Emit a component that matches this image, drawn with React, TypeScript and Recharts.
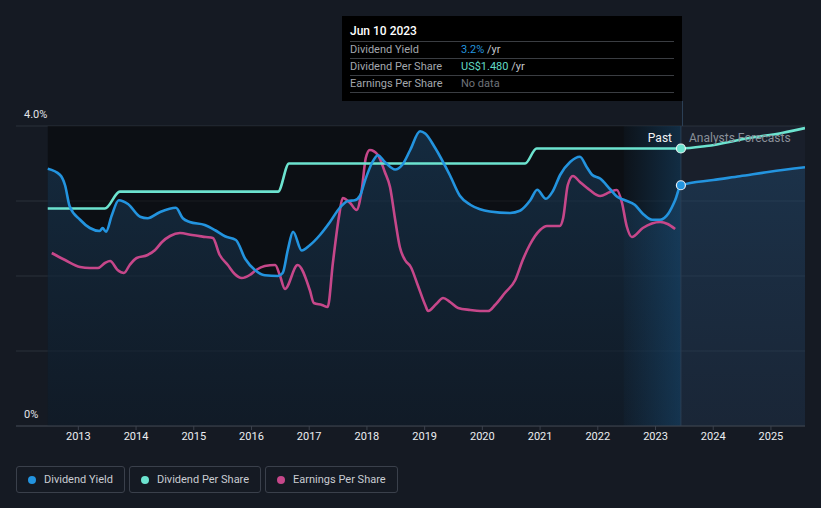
import {
  ComposedChart,
  Area,
  Line,
  XAxis,
  YAxis,
  CartesianGrid,
  ReferenceArea,
  ReferenceLine,
  ReferenceDot,
} from "recharts";

// time is a decimal year; values after NOW are the analyst forecast
const YEAR_TICKS = [2013, 2014, 2015, 2016, 2017, 2018, 2019, 2020, 2021, 2022, 2023, 2024, 2025];
const YIELD_TICKS = [0, 1, 2, 3, 4];

const START = 2012.47;
const NOW = 2023.44;
const END = 2025.59;
const HIGHLIGHT_FROM = 2022.45;

// dividend yield, %
const dividendYield: [number, number][] = [
  [2012.47, 3.43], [2012.68, 3.35], [2012.77, 3.21], [2012.85, 2.93], [2013.03, 2.75],
  [2013.2, 2.64], [2013.37, 2.6], [2013.42, 2.64], [2013.48, 2.59], [2013.58, 2.81],
  [2013.7, 3.01], [2013.86, 2.96], [2014.07, 2.79], [2014.2, 2.77], [2014.41, 2.85],
  [2014.69, 2.91], [2014.81, 2.77], [2014.93, 2.72], [2015.19, 2.68], [2015.37, 2.61],
  [2015.54, 2.53], [2015.73, 2.48], [2015.89, 2.23], [2016.06, 2.08], [2016.23, 2.01],
  [2016.46, 2.0], [2016.54, 2.04], [2016.63, 2.35], [2016.72, 2.59], [2016.87, 2.34],
  [2017.01, 2.41], [2017.19, 2.55], [2017.36, 2.72], [2017.53, 2.91], [2017.67, 3.0],
  [2017.79, 3.01], [2017.88, 3.07], [2017.97, 3.28], [2018.09, 3.51], [2018.19, 3.61],
  [2018.31, 3.52], [2018.49, 3.42], [2018.61, 3.48], [2018.75, 3.68], [2018.92, 3.93],
  [2019.01, 3.9], [2019.18, 3.71], [2019.44, 3.34], [2019.61, 3.07], [2019.79, 2.95],
  [2019.96, 2.89], [2020.13, 2.86], [2020.48, 2.84], [2020.65, 2.87], [2020.83, 3.01],
  [2020.95, 3.15], [2021.1, 3.03], [2021.22, 3.13], [2021.35, 3.35], [2021.52, 3.52],
  [2021.69, 3.59], [2021.81, 3.45], [2021.9, 3.35], [2022.04, 3.3], [2022.21, 3.16],
  [2022.33, 3.06], [2022.47, 3.01], [2022.64, 2.95], [2022.78, 2.83], [2022.94, 2.75],
  [2023.08, 2.75], [2023.22, 2.83], [2023.34, 3.01], [2023.44, 3.21],
  [2024.0, 3.28], [2024.46, 3.33], [2024.98, 3.39], [2025.59, 3.45],
];

// dividend per share, US$
const dividendPerShare: [number, number][] = [
  [2012.47, 1.16], [2013.46, 1.16], [2013.72, 1.25], [2016.46, 1.25], [2016.65, 1.4],
  [2020.74, 1.4], [2020.94, 1.48], [2023.44, 1.48],
  [2023.88, 1.493], [2024.63, 1.536], [2025.21, 1.564], [2025.59, 1.589],
];

// earnings per share (own hidden scale)
const earningsPerShare: [number, number][] = [
  [2012.54, 3.46], [2012.77, 3.32], [2013.03, 3.18], [2013.2, 3.16], [2013.34, 3.16],
  [2013.46, 3.26], [2013.55, 3.3], [2013.68, 3.12], [2013.79, 3.06], [2013.89, 3.22],
  [2014.01, 3.36], [2014.2, 3.42], [2014.33, 3.52], [2014.45, 3.68], [2014.59, 3.8],
  [2014.76, 3.86], [2014.97, 3.82], [2015.21, 3.78], [2015.33, 3.76], [2015.45, 3.42],
  [2015.59, 3.22], [2015.71, 3.04], [2015.83, 2.96], [2015.97, 3.02], [2016.08, 3.12],
  [2016.23, 3.2], [2016.41, 3.22], [2016.49, 3.02], [2016.58, 2.74], [2016.8, 3.22],
  [2017.01, 2.72], [2017.08, 2.46], [2017.22, 2.42], [2017.32, 2.38], [2017.41, 3.26],
  [2017.52, 4.22], [2017.58, 4.56], [2017.71, 4.46], [2017.82, 4.32], [2017.91, 4.72],
  [2017.98, 5.36], [2018.05, 5.52], [2018.19, 5.42], [2018.31, 5.08], [2018.4, 4.78],
  [2018.49, 4.12], [2018.57, 3.58], [2018.66, 3.32], [2018.76, 3.18], [2018.88, 2.82],
  [2019.01, 2.42], [2019.06, 2.3], [2019.2, 2.44], [2019.32, 2.56], [2019.44, 2.48],
  [2019.58, 2.36], [2019.79, 2.32], [2019.96, 2.3], [2020.1, 2.3], [2020.22, 2.42],
  [2020.39, 2.66], [2020.57, 2.92], [2020.7, 3.32], [2020.82, 3.62], [2021.0, 3.92],
  [2021.12, 4.0], [2021.34, 4.0], [2021.4, 4.16], [2021.48, 4.82], [2021.57, 5.0],
  [2021.69, 4.88], [2021.86, 4.72], [2022.04, 4.6], [2022.21, 4.68], [2022.33, 4.72],
  [2022.42, 4.46], [2022.5, 4.0], [2022.59, 3.78], [2022.78, 3.96], [2023.08, 4.08],
  [2023.21, 4.04], [2023.34, 3.94],
];

const BLUE = "#2394df";
const TEAL = "#6ce3cf";
const PINK = "#c6478a";
const FONT = "Roboto, 'Noto Sans', sans-serif";

function buildRows() {
  const rows = new Map<number, any>();
  const put = (series: [number, number][], key: string) =>
    series.forEach(([t, v]) => {
      if (!rows.has(t)) rows.set(t, { t });
      rows.get(t)[key] = v;
    });
  put(dividendYield, "yield");
  put(dividendPerShare, "dps");
  put(earningsPerShare, "eps");
  return Array.from(rows.values()).sort((a, b) => a.t - b.t);
}

const rows = buildRows();

const renderYieldTick = (props: any) => {
  const { y, payload } = props;
  if (payload.value !== 0 && payload.value !== 4) return <g />;
  return (
    <text x={24} y={y - 8} fill="#e2e4e8" fontSize={11} fontFamily={FONT}>
      {payload.value === 0 ? "0%" : "4.0%"}
    </text>
  );
};

const legendItems = [
  { label: "Dividend Yield", color: BLUE },
  { label: "Dividend Per Share", color: TEAL },
  { label: "Earnings Per Share", color: PINK },
];

export default function App() {
  return (
    <div
      style={{
        position: "absolute",
        left: 0,
        top: 0,
        width: 821,
        height: 508,
        background: "#151a23",
        overflow: "hidden",
        fontFamily: FONT,
      }}
    >
      <ComposedChart width={821} height={460} data={rows} margin={{ top: 126, right: 16, bottom: 0, left: 15 }}>
        <defs>
          <linearGradient id="yieldFill" x1="0" y1="0" x2="0" y2="1">
            <stop offset="0%" stopColor="#1f4f78" stopOpacity={0.72} />
            <stop offset="100%" stopColor="#1b3652" stopOpacity={0.5} />
          </linearGradient>
          <linearGradient id="bandFill" x1="0" y1="0" x2="1" y2="0">
            <stop offset="0%" stopColor="#1a5a8c" stopOpacity={0.05} />
            <stop offset="100%" stopColor="#1a5a8c" stopOpacity={0.4} />
          </linearGradient>
        </defs>
        <ReferenceArea yAxisId="yield" x1={START} x2={NOW} fill="#000000" fillOpacity={0.42} stroke="none" />
        <ReferenceArea yAxisId="yield" x1={NOW} x2={END} fill="#2a3a52" fillOpacity={0.18} stroke="none" />
        <CartesianGrid yAxisId="yield" vertical={false} stroke="#2b313b" />
        <XAxis
          dataKey="t"
          type="number"
          domain={[2011.92, END]}
          ticks={YEAR_TICKS}
          allowDataOverflow
          height={34}
          tick={{ fill: "#eceef1", fontSize: 11, fontFamily: FONT }}
          tickSize={4}
          tickLine={{ stroke: "#3c424d" }}
          axisLine={{ stroke: "#3c424d" }}
        />
        <YAxis
          yAxisId="yield"
          domain={[0, 4]}
          ticks={YIELD_TICKS}
          width={1}
          axisLine={false}
          tickLine={false}
          tick={renderYieldTick}
        />
        <YAxis yAxisId="dps" hide domain={[0, 1.6]} />
        <YAxis yAxisId="eps" hide domain={[0, 6]} />
        <Area
          yAxisId="yield"
          dataKey="yield"
          type="monotone"
          stroke="none"
          fill="url(#yieldFill)"
          connectNulls
          isAnimationActive={false}
        />
        <ReferenceArea yAxisId="yield" x1={HIGHLIGHT_FROM} x2={NOW} fill="url(#bandFill)" fillOpacity={1} stroke="none" />
        <ReferenceLine yAxisId="yield" x={NOW} stroke="#2b3f55" />
        <Line
          yAxisId="eps"
          dataKey="eps"
          type="monotone"
          stroke={PINK}
          strokeWidth={2.6}
          dot={false}
          activeDot={false}
          connectNulls
          isAnimationActive={false}
        />
        <Line
          yAxisId="dps"
          dataKey="dps"
          type="monotone"
          stroke={TEAL}
          strokeWidth={2.6}
          dot={false}
          activeDot={false}
          connectNulls
          isAnimationActive={false}
        />
        <Line
          yAxisId="yield"
          dataKey="yield"
          type="monotone"
          stroke={BLUE}
          strokeWidth={2.6}
          dot={false}
          activeDot={false}
          connectNulls
          isAnimationActive={false}
        />
        <ReferenceDot yAxisId="dps" x={NOW} y={1.48} r={4.5} fill={TEAL} stroke="#e8f4f2" strokeWidth={1.2} />
        <ReferenceDot yAxisId="yield" x={NOW} y={3.21} r={4.5} fill={BLUE} stroke="#e8eef4" strokeWidth={1.2} />
      </ComposedChart>

      {/* past / forecast labels */}
      <div style={{ position: "absolute", right: 149, top: 131, fontSize: 12, lineHeight: "14px", color: "#f2f3f5" }}>
        Past
      </div>
      <div style={{ position: "absolute", left: 689, top: 131, fontSize: 12, lineHeight: "14px", color: "#8a9099" }}>
        Analysts Forecasts
      </div>
      <div style={{ position: "absolute", left: 681.5, top: 101, width: 1, height: 25, background: "#2b3f55" }} />

      {/* tooltip */}
      <div
        style={{
          position: "absolute",
          left: 342,
          top: 16,
          width: 340,
          height: 85,
          background: "#000",
          padding: "0 8px",
          boxSizing: "border-box",
          fontSize: 11,
        }}
      >
        <div
          style={{
            paddingTop: 8,
            height: 17,
            lineHeight: "14px",
            fontSize: 12,
            color: "#fff",
            fontWeight: 500,
            borderBottom: "1px solid #3a3d42",
          }}
        >
          Jun 10 2023
        </div>
        {[
          { label: "Dividend Yield", value: "3.2%", color: BLUE, unit: " /yr" },
          { label: "Dividend Per Share", value: "US$1.480", color: "#62dac5", unit: " /yr" },
          { label: "Earnings Per Share", value: "No data", color: "#6f737a", unit: "" },
        ].map((r) => (
          <div
            key={r.label}
            style={{
              display: "flex",
              height: 16,
              lineHeight: "15px",
              borderBottom: "1px solid #3a3d42",
            }}
          >
            <span style={{ width: 111, color: "#a3a7ad" }}>{r.label}</span>
            <span style={{ color: r.color }}>{r.value}</span>
            <span style={{ color: "#c4c7cc", whiteSpace: "pre" }}>{r.unit}</span>
          </div>
        ))}
      </div>

      {/* legend */}
      <div style={{ position: "absolute", left: 16, top: 466, display: "flex", gap: 4 }}>
        {legendItems.map((it) => (
          <div
            key={it.label}
            style={{
              height: 25,
              border: "1px solid #3a404b",
              borderRadius: 3,
              padding: "0 11px",
              display: "flex",
              alignItems: "center",
              gap: 8,
              fontSize: 11,
              color: "#c9ccd2",
            }}
          >
            <span style={{ width: 8, height: 8, borderRadius: 4, background: it.color, display: "inline-block" }} />
            {it.label}
          </div>
        ))}
      </div>
    </div>
  );
}
